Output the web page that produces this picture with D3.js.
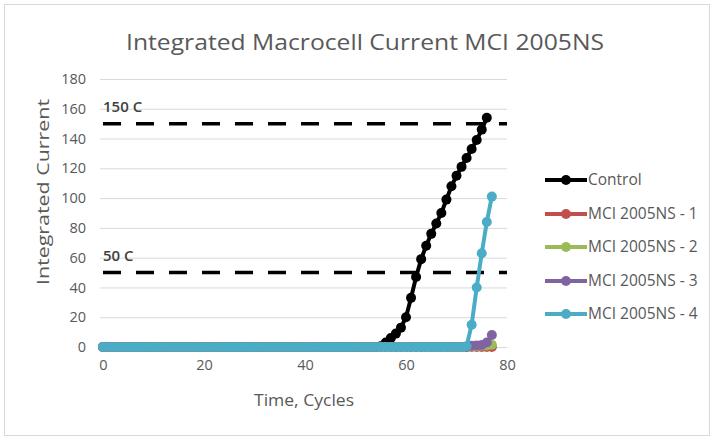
<!DOCTYPE html>
<html>
<head>
<meta charset="utf-8">
<script src="https://cdn.jsdelivr.net/npm/d3@7"></script>
<style>
  body { margin: 0; background: #fff; }
  svg { display: block; }
  text { font-family: "Open Sans", "Liberation Sans", sans-serif; }
</style>
</head>
<body>
<svg id="chart" width="714" height="440"></svg>
<script>
// ---- data ----
const cycles = d3.range(0, 78); // 0..77
const controlValues = [
  0,0,0,0,0,0,0,0,0,0, 0,0,0,0,0,0,0,0,0,0,
  0,0,0,0,0,0,0,0,0,0, 0,0,0,0,0,0,0,0,0,0,
  0,0,0,0,0,0,0,0,0,0, 0,0,0,0,0,0.5,3,6,9,13,
  20,33,47,59,68,76,83,90,99,108, 115,121,127,133,139,146,154
];
const mci1Values = new Array(78).fill(0);
const mci2Values = [
  0,0,0,0,0,0,0,0,0,0, 0,0,0,0,0,0,0,0,0,0,
  0,0,0,0,0,0,0,0,0,0, 0,0,0,0,0,0,0,0,0,0,
  0,0,0,0,0,0,0,0,0,0, 0,0,0,0,0,0,0,0,0,0,
  0,0,0,0,0,0,0,0,0,0, 0,0,0,0.3,0.5,0.8,1,1.5
];
const mci3Values = [
  0,0,0,0,0,0,0,0,0,0, 0,0,0,0,0,0,0,0,0,0,
  0,0,0,0,0,0,0,0,0,0, 0,0,0,0,0,0,0,0,0,0,
  0,0,0,0,0,0,0,0,0,0, 0,0,0,0,0,0,0,0,0,0,
  0,0,0,0,0,0,0,0,0,0, 0,0,0,0.8,1,1.3,3,8
];
const mci4Values = [
  0,0,0,0,0,0,0,0,0,0, 0,0,0,0,0,0,0,0,0,0,
  0,0,0,0,0,0,0,0,0,0, 0,0,0,0,0,0,0,0,0,0,
  0,0,0,0,0,0,0,0,0,0, 0,0,0,0,0,0,0,0,0,0,
  0,0,0,0,0,0,0,0,0,0, 0,0,0.5,15,40,63,84,101
];
const seriesNames = ["Control", "MCI 2005NS - 1", "MCI 2005NS - 2", "MCI 2005NS - 3", "MCI 2005NS - 4"];
const seriesColors = ["#000000", "#C0504D", "#9BBB59", "#8064A2", "#4BACC6"];
const xTicks = [0, 20, 40, 60, 80];
const yTicks = [0, 20, 40, 60, 80, 100, 120, 140, 160, 180];
const thresholds = [150, 50];
const thresholdLabels = ["150 C", "50 C"];
const titleText = "Integrated Macrocell Current MCI 2005NS";
const xTitle = "Time, Cycles";
const yTitle = "Integrated Current";

const allValues = [controlValues, mci1Values, mci2Values, mci3Values, mci4Values];
const series = seriesNames.map((name, i) => ({
  name, color: seriesColors[i],
  points: allValues[i].map((v, j) => ({ x: cycles[j], y: v }))
}));

// ---- layout ----
const svg = d3.select("#chart");
const x = d3.scaleLinear().domain([0, 80]).range([103, 507]);
const y = d3.scaleLinear().domain([0, 180]).range([347, 79]);

// chart border
svg.append("rect").attr("x", 4.5).attr("y", 4.5).attr("width", 705).attr("height", 431)
  .attr("fill", "#fff").attr("stroke", "#d9d9d9").attr("stroke-width", 1);

// title
svg.append("text").attr("x", 365).attr("y", 50).attr("text-anchor", "middle")
  .attr("font-size", 22.5).attr("fill", "#595959")
  .attr("textLength", 478).attr("lengthAdjust", "spacingAndGlyphs").text(titleText);

// gridlines
svg.append("g").selectAll("line").data(yTicks).join("line")
  .attr("x1", 100).attr("x2", 507)
  .attr("y1", d => y(d) + 0.5).attr("y2", d => y(d) + 0.5)
  .attr("stroke", "#d9d9d9").attr("stroke-width", 1);

// y axis labels
const yAxis = d3.axisLeft(y).tickValues(yTicks).tickSize(0).tickPadding(0);
const gy = svg.append("g").attr("transform", "translate(86,0)").call(yAxis);
gy.select(".domain").remove();
gy.selectAll("text").attr("font-size", 14.5).attr("fill", "#595959")
  .attr("font-family", '"Open Sans", sans-serif');

// x axis labels
const xAxis = d3.axisBottom(x).tickValues(xTicks).tickSize(0).tickPadding(0);
const gx = svg.append("g").attr("transform", "translate(0,360)").call(xAxis);
gx.select(".domain").remove();
gx.selectAll("text").attr("font-size", 14.5).attr("fill", "#595959")
  .attr("font-family", '"Open Sans", sans-serif');

// axis titles
svg.append("text").attr("x", 304).attr("y", 406).attr("text-anchor", "middle")
  .attr("font-size", 16).attr("fill", "#595959")
  .attr("textLength", 100).attr("lengthAdjust", "spacingAndGlyphs").text(xTitle);
svg.append("text").attr("transform", "translate(49,192) rotate(-90)").attr("text-anchor", "middle")
  .attr("font-size", 16).attr("fill", "#595959")
  .attr("textLength", 186).attr("lengthAdjust", "spacingAndGlyphs").text(yTitle);

// threshold dashed lines
svg.append("g").selectAll("line").data(thresholds).join("line")
  .attr("x1", x(0)).attr("x2", x(80))
  .attr("y1", d => y(d)).attr("y2", d => y(d))
  .attr("stroke", "#000").attr("stroke-width", 3.5).attr("stroke-dasharray", "18,15");
svg.append("g").selectAll("text").data(thresholds).join("text")
  .attr("x", x(0)).attr("y", d => y(d) - 12)
  .attr("font-size", 15).attr("fill", "#404040").attr("font-weight", 600)
  .text((d, i) => thresholdLabels[i]);

// series
const line = d3.line().x(d => x(d.x)).y(d => y(d.y));
const gs = svg.append("g");
series.forEach(s => {
  const g = gs.append("g");
  g.append("path").datum(s.points).attr("d", line)
    .attr("fill", "none").attr("stroke", s.color).attr("stroke-width", 4)
    .attr("stroke-linejoin", "round");
  g.selectAll("circle").data(s.points).join("circle")
    .attr("cx", d => x(d.x)).attr("cy", d => y(d.y)).attr("r", 5)
    .attr("fill", s.color);
});

// legend
const legY = [180, 214, 247, 281, 314];
const lg = svg.append("g");
series.forEach((s, i) => {
  const g = lg.append("g").attr("transform", `translate(0,${legY[i]})`);
  g.append("line").attr("x1", 545).attr("x2", 587).attr("y1", 0).attr("y2", 0)
    .attr("stroke", s.color).attr("stroke-width", 4);
  g.append("circle").attr("cx", 566).attr("cy", 0).attr("r", 5).attr("fill", s.color);
  g.append("text").attr("x", 588).attr("y", 0).attr("dy", "0.35em")
    .attr("font-size", 15.5).attr("fill", "#595959").text(s.name);
});
</script>
</body>
</html>
